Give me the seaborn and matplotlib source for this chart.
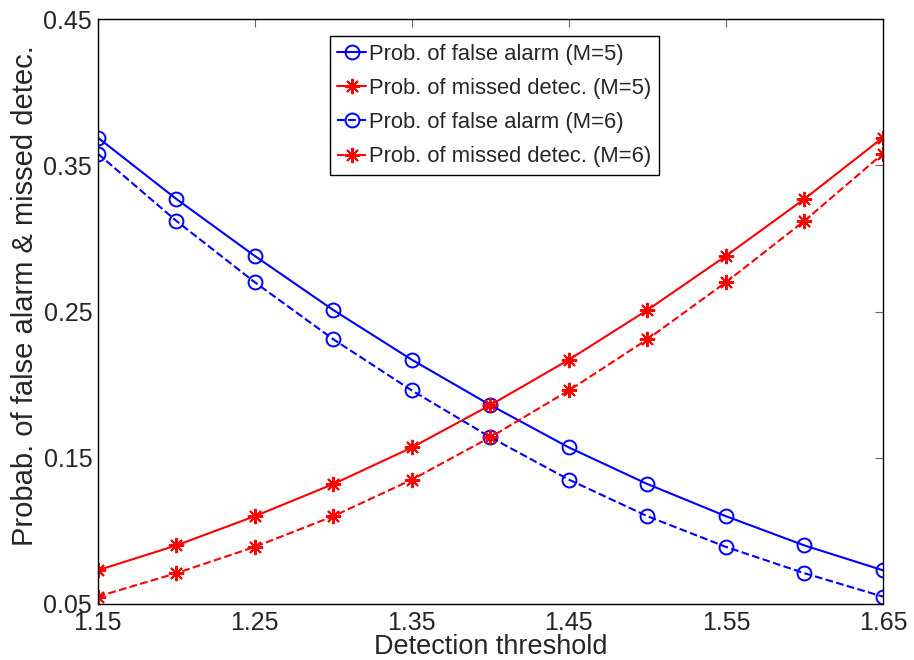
import numpy as np
import seaborn as sns
import matplotlib.pyplot as plt

threshold = [1.15, 1.20, 1.25, 1.30, 1.35, 1.40, 1.45, 1.50, 1.55, 1.60, 1.65]
false_alarm_m5 = [0.369, 0.327, 0.288, 0.251, 0.217, 0.186, 0.157, 0.132, 0.110, 0.090, 0.073]
missed_m5 = [0.073, 0.090, 0.110, 0.132, 0.157, 0.186, 0.217, 0.251, 0.288, 0.327, 0.369]
false_alarm_m6 = [0.358, 0.312, 0.270, 0.231, 0.196, 0.164, 0.135, 0.110, 0.089, 0.071, 0.055]
missed_m6 = [0.055, 0.071, 0.089, 0.110, 0.135, 0.164, 0.196, 0.231, 0.270, 0.312, 0.358]

x_ticks = [1.15, 1.25, 1.35, 1.45, 1.55, 1.65]
y_ticks = [0.05, 0.15, 0.25, 0.35, 0.45]

sns.set_style("white")
plt.rcParams['font.family'] = ['Liberation Sans', 'DejaVu Sans']

fig = plt.figure(figsize=(9.14, 6.6), dpi=100)
ax = fig.add_axes([0.107, 0.085, 0.859, 0.886])

# matlab style asterisk: plus + cross
star = (8, 2, 0)
series = [
    (false_alarm_m5, 'blue', '-', 'o', 'Prob. of false alarm (M=5)'),
    (missed_m5, 'red', '-', star, 'Prob. of missed detec. (M=5)'),
    (false_alarm_m6, 'blue', '--', 'o', 'Prob. of false alarm (M=6)'),
    (missed_m6, 'red', '--', star, 'Prob. of missed detec. (M=6)'),
]
for vals, col, ls, mk, lab in series:
    ms = 10 if mk == 'o' else 11
    sns.lineplot(x=threshold, y=vals, ax=ax, color=col, linestyle=ls, marker=mk,
                 markersize=ms, markerfacecolor='none', markeredgecolor=col,
                 markeredgewidth=1.4, linewidth=1.5, label=lab)

ax.set_xlim(1.15, 1.65)
ax.set_ylim(0.05, 0.45)
ax.set_xticks(x_ticks)
ax.set_yticks(y_ticks)
ax.set_xticklabels([f'{t:.2f}' for t in x_ticks])
ax.set_yticklabels([f'{t:.2f}' for t in y_ticks])
ax.tick_params(direction='in', length=6, width=0.8, color='0.4', labelsize=18,
               top=True, right=True)
ax.tick_params(axis='x', pad=5)
ax.tick_params(axis='y', pad=4)
for s in ax.spines.values():
    s.set_visible(True)
    s.set_color('black')
    s.set_linewidth(1.0)

xl = ax.set_xlabel('Detection threshold', fontsize=19.5, va='baseline')
ax.xaxis.set_label_coords(0.5, -0.086)
yl = ax.set_ylabel('Probab. of false alarm & missed detec.', fontsize=21, va='baseline')
ax.yaxis.set_label_coords(-0.083, 0.528)

leg = ax.legend(loc='upper left', bbox_to_anchor=(0.2955, 0.971), fontsize=15.8,
                frameon=True, fancybox=False, edgecolor='black', framealpha=1,
                handlelength=1.3, handletextpad=0.15, labelspacing=0.6,
                borderpad=0.35, borderaxespad=0)
leg.get_frame().set_linewidth(1.0)

plt.savefig('out.png', dpi=100)
